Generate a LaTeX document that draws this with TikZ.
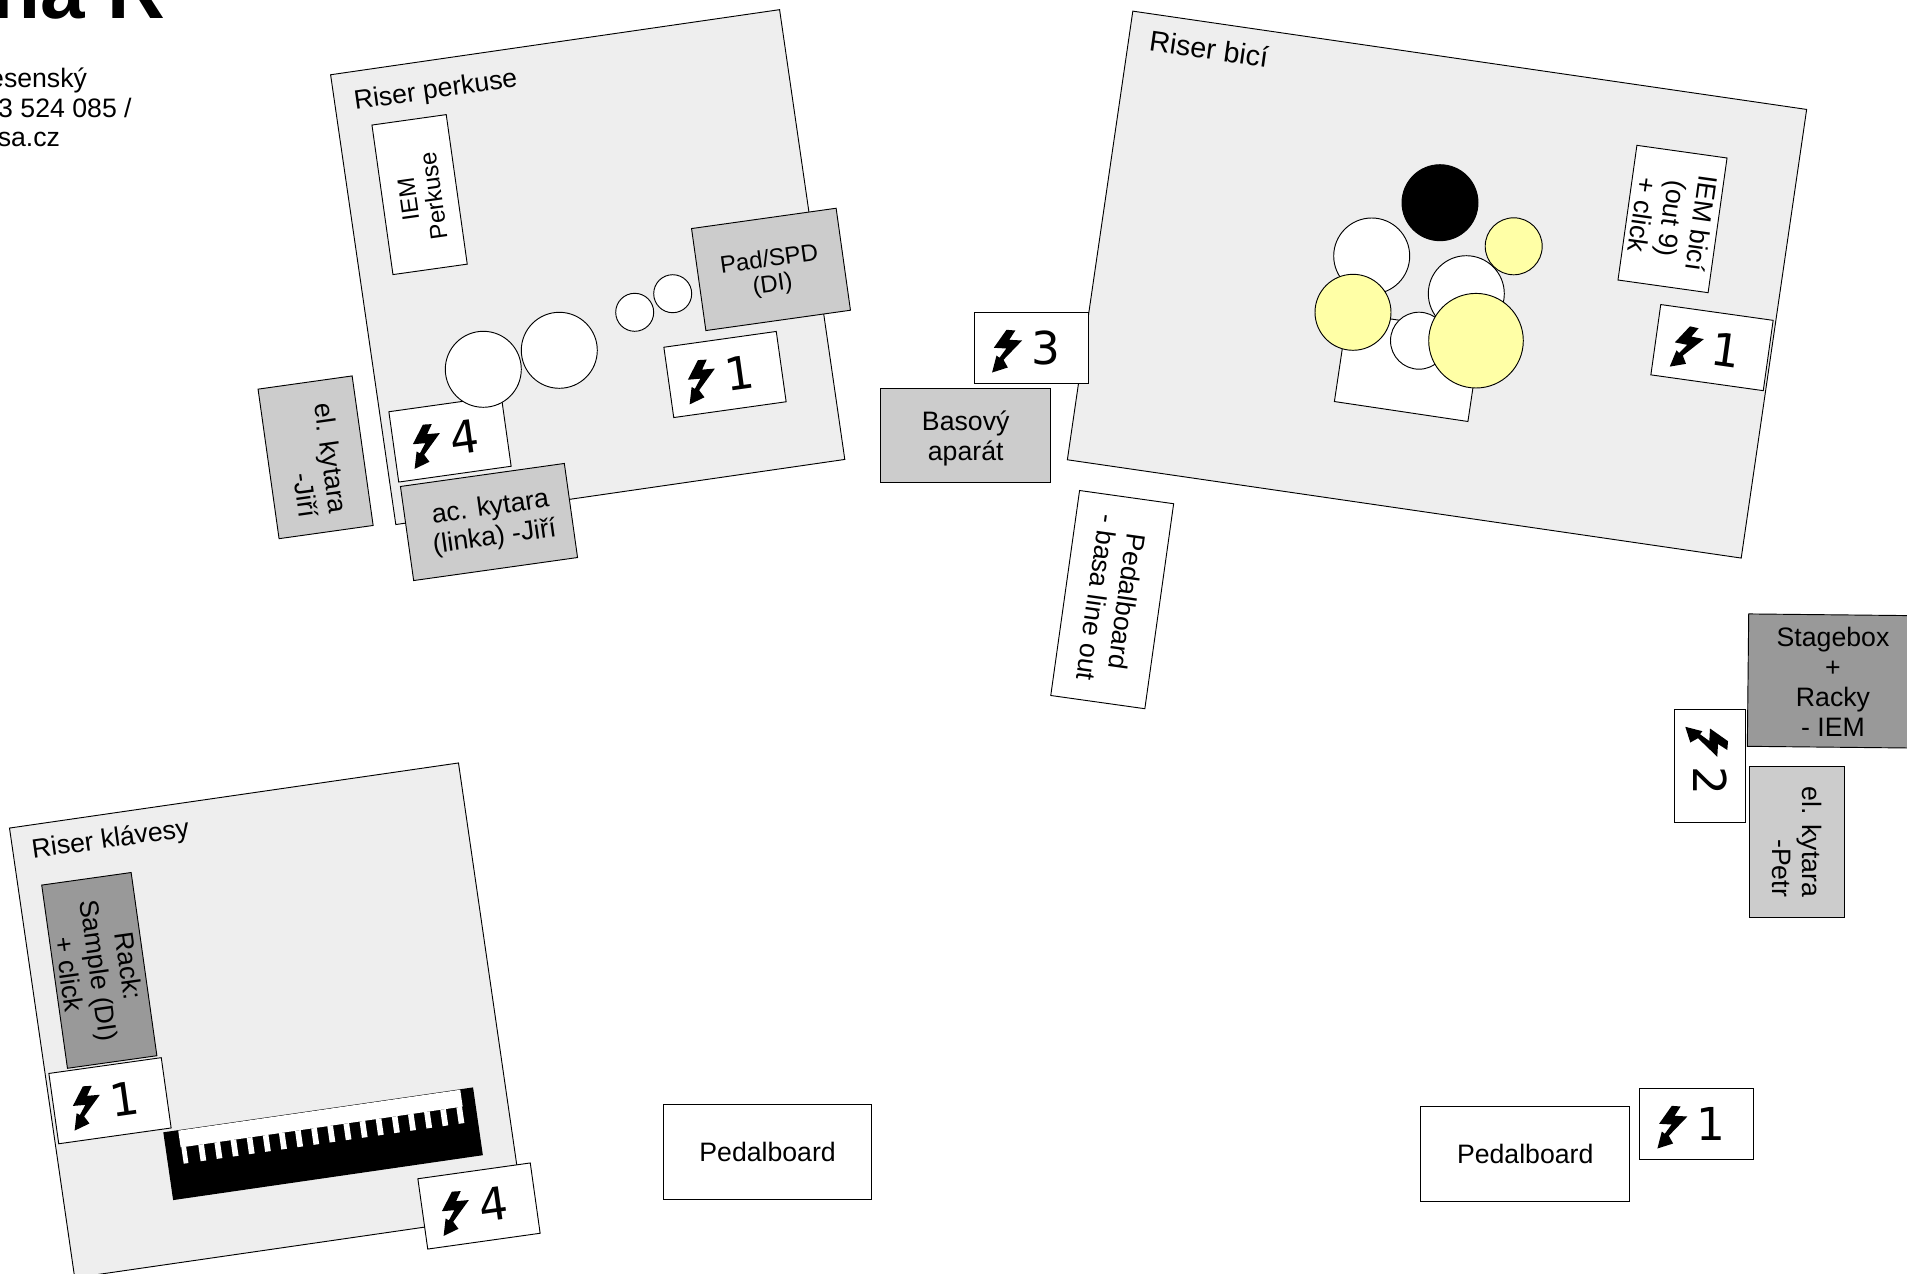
\documentclass[tikz,border=0pt]{standalone}
\usepackage{fontspec}
\setmainfont{Liberation Sans}
\newfontfamily\digitfont{DejaVu Sans}
\definecolor{riserfill}{HTML}{EEEEEE}
\definecolor{lightgrey}{HTML}{CCCCCC}
\definecolor{darkgrey}{HTML}{999999}
\definecolor{cymbal}{HTML}{FFFFA6}
\tikzset{
  x=0.75pt,y=-0.75pt,
  every node/.style={inner sep=0pt,outer sep=0pt},
  bx/.style 2 args={draw=black,line width=0.7pt,rectangle,align=center,
    minimum width=#1*0.75pt,minimum height=#2*0.75pt,
    font=\fontsize{20}{22.5}\selectfont},
  boxtext/.style={align=center,font=\fontsize{20}{22.5}\selectfont},
  boltbox/.style={draw=black,line width=0.7pt,fill=white,rectangle,
    minimum width=113.5*0.75pt,minimum height=71*0.75pt},
  digit/.style={font=\digitfont\fontsize{34}{34}\selectfont,anchor=base,transform shape},
  drum/.style={draw=black,line width=0.7pt,circle,minimum size=#1*1.5pt},
  risertitle/.style={font=\fontsize{20}{24}\selectfont},
  plain/.style={font=\fontsize{20}{22.5}\selectfont,anchor=base east},
  smalltext/.style={font=\fontsize{18}{19}\selectfont,align=center},
}
% box with a bolt sign and a number: name, position, angle, number
\newcommand{\powerbox}[4]{%
  \node[boltbox,rotate=#3] (#1) at (#2) {};
  \begin{scope}[shift={(#1.center)},rotate=#3]
    \fill[black] (-24.8,-18) -- (-16,-17.3) -- (-22,-8) -- (-9.2,-7.3)
      -- (-27.8,12) -- (-23.5,19.7) -- (-39.2,24.7) -- (-34.8,7.7)
      -- (-31.8,10) -- (-25,0.7) -- (-37.5,0) -- cycle;
    \node[digit] (#1n) at (14.7,16.7) {#4};
  \end{scope}}
\begin{document}
\begin{tikzpicture}
\path[use as bounding box,clip] (0,0) rectangle (1907,1274);

% header fragments
\node[anchor=base east,font=\bfseries\fontsize{60}{60}\selectfont] (title) at (165,18) {na R};
\node[plain] (t1) at (87,87.7) {esenský};
\node[plain] (t2) at (131.7,117.7) {3 524 085 /};
\node[plain] (t3) at (60,146.7) {sa.cz};

% riser perkuse
\node[bx={453.7}{454.5},fill=riserfill,rotate=8.25] (rp) at (587.7,267.1) {};
\node[risertitle,rotate=8] (rpl) at (435.8,91.3) {Riser perkuse};
\node[bx={151}{75},fill=white,rotate=98] (iemp) at (419.6,194.6) {};
\node[smalltext,rotate=98] (iempt) at (421,197.6) {IEM\\Perkuse};
\powerbox{pb1}{725,374.5}{8}{1}
\powerbox{pb4}{450,439}{8}{4}
\node[drum=19,fill=white] (pc1) at (634.7,312.3) {};
\node[drum=19,fill=white] (pc2) at (672.7,293.7) {};
\node[drum=38,fill=white] (pc3) at (559.3,350.3) {};
\node[drum=38,fill=white] (pc4) at (483.3,369.3) {};
\node[bx={146}{103},fill=lightgrey,rotate=8] (pad) at (771,269.4) {};
\node[rotate=8,align=center,font=\fontsize{18}{18.75}\selectfont] (padt) at (771,273) {Pad/SPD\\(DI)};
\node[bx={165.5}{95},fill=lightgrey,rotate=8] (ack) at (489,522) {};
\node[rotate=8,boxtext] (ackt) at (492.6,523) {ac. kytara\\(linka) -Jiří};
\node[bx={151}{95},fill=lightgrey,rotate=-82] (elj) at (315.6,457.3) {};
\node[rotate=-82,boxtext,align=right] (eljt) at (316.3,460.5) {el. kytara\\-Jiří};

% riser bici
\node[bx={681}{453.4},fill=riserfill,rotate=-8.3] (rb) at (1437,284.6) {};
\node[font=\fontsize{21.5}{24}\selectfont,rotate=-8] (rbl) at (1209,48.6) {Riser bicí};
\node[bx={135}{90},fill=white,rotate=-8.5] (kick) at (1407.8,367) {};
\node[drum=38,fill=white] (d1) at (1371.7,256) {};
\node[drum=38,fill=white] (d2) at (1466.3,293.7) {};
\node[drum=38,fill=black] (d3) at (1440,202.7) {};
\node[drum=28.5,fill=white] (d4) at (1419,340.7) {};
\node[drum=28.5,fill=cymbal] (d5) at (1513.7,246.3) {};
\node[drum=38,fill=cymbal] (d6) at (1353,312.3) {};
\node[drum=47.3,fill=cymbal] (d7) at (1476,340.7) {};
\node[bx={136}{91},fill=white,rotate=-98] (iemb) at (1672.5,219) {IEM bicí\\(out 9)\\+ click};
\powerbox{bb1}{1712,347.6}{-8}{1}

% bass
\node[bx={170}{94},fill=lightgrey] (bas) at (965.7,435.7) {};
\node[boxtext] (bast) at (965.7,438) {Basový\\aparát};
\powerbox{b3}{1031.3,347.8}{0}{3}
\node[bx={207}{95},fill=white,rotate=-98] (pbas) at (1112.2,599.6) {Pedalboard\\- basa line out};

% stagebox
\node[bx={170}{132.4},fill=darkgrey,rotate=-0.6] (sb) at (1833,681) {};
\node[boxtext] (sbt) at (1833,682) {Stagebox\\+\\Racky\\- IEM};
\powerbox{b2}{1710,766}{-90}{2}
\node[bx={151}{94.5},fill=lightgrey,rotate=-90,align=right] (elp) at (1797,841.7) {el. kytara\\-Petr};

% riser klavesy
\node[bx={453.7}{454.5},fill=riserfill,rotate=8.25] (rk) at (266.6,1020.4) {};
\node[risertitle,rotate=8] (rkl) at (110.7,840.4) {Riser klávesy};
\node[bx={185}{90.3},fill=darkgrey,rotate=-82] (rack) at (99.3,970.4) {Rack:\\Sample (DI)\\+ click};
\powerbox{kb1}{110,1100.7}{8}{1}

% keyboard
\begin{scope}[shift={(163.3,1132.3)},rotate=8.25]
  \fill[black] (0,0) rectangle (313,68.5);
  \fill[white] (15,0.5) rectangle (300,17.5);
  \fill[white] (15.7,17.5) rectangle (20.5,34);
  \foreach \k in {0,...,16} {
    \fill[white] ({32.8+16.3*\k},17.5) rectangle ({38.5+16.3*\k},34);
  }
\end{scope}
\powerbox{kb4}{479,1206}{8}{4}

% pedalboards
\node[bx={208.5}{95},fill=white] (ped1) at (767.6,1151.7) {Pedalboard};
\node[bx={208.5}{95},fill=white] (ped2) at (1525.2,1154) {Pedalboard};
\powerbox{b1}{1696.6,1123.8}{0}{1}
\end{tikzpicture}
\end{document}
